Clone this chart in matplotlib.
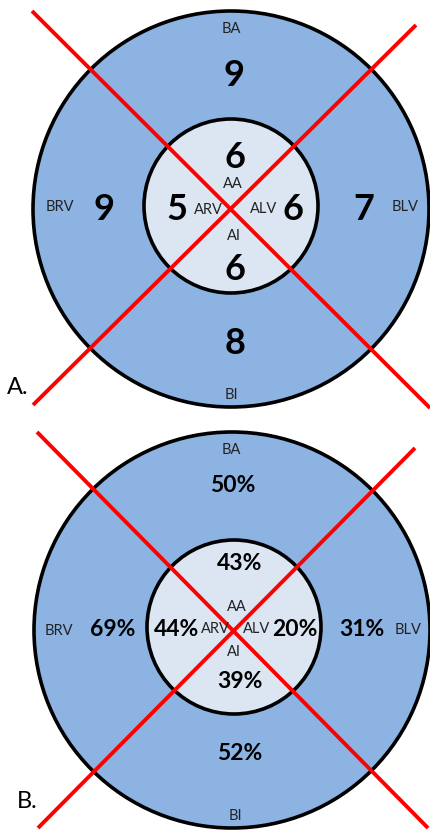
import matplotlib
matplotlib.use('Agg')
import matplotlib.pyplot as plt
from matplotlib.patches import Circle

# segment names and values, order: top, right, bottom, left (outer ring then inner disc)
regions = ['BA', 'BLV', 'BI', 'BRV', 'AA', 'ALV', 'AI', 'ARV']
counts = [9, 7, 8, 9, 6, 6, 6, 5]
percents = ['50%', '31%', '52%', '69%', '43%', '20%', '39%', '44%']
panel_labels = ['A.', 'B.']

OUTER = '#8DB3E2'
INNER = '#DCE6F2'
RED = '#FF0000'
FONT = ['Lato', 'DejaVu Sans']

# layout of each panel in pixel coordinates
panels = [
    dict(center=(231, 209), inner_c=(231, 206), r_out=198, r_in=87,
         cross=[((32, 11), (430, 408)), ((416, 25), (33, 405))],
         name_off=[(0, -180), (174, -2), (0, 186), (-171, -2),
                   (2, -25), (33, 0), (3, 27), (-23, 1)],
         val_off=[(3, -134), (133, 0), (4, 134), (-127, 0),
                  (4, -51), (62, 0), (4, 61), (-54, 0)],
         val_size=26, tag_pos=(18, 388)),
    dict(center=(232, 630), inner_c=(234, 627), r_out=198, r_in=87,
         cross=[((37, 432), (428, 828)), ((415, 448), (38, 828))],
         name_off=[(-1, -180), (176, 0), (3, 186), (-173, 1),
                   (5, -23), (25, -1), (2, 22), (-17, -1)],
         val_off=[(1, -145), (130, 0), (8, 123), (-119, 0),
                  (8, -67), (63, 0), (8, 52), (-55, 0)],
         val_size=16.5, tag_pos=(27, 801)),
]

fig = plt.figure(figsize=(4.30, 8.31), dpi=100)
ax = fig.add_axes([0, 0, 1, 1])
ax.set_xlim(0, 430)
ax.set_ylim(831, 0)
ax.axis('off')

for i, p in enumerate(panels):
    cx, cy = p['center']
    ax.add_patch(Circle(p['center'], p['r_out'], facecolor=OUTER,
                        edgecolor='black', lw=2.6, zorder=1))
    ax.add_patch(Circle(p['inner_c'], p['r_in'], facecolor=INNER,
                        edgecolor='black', lw=2.6, zorder=2))
    for (x0, y0), (x1, y1) in p['cross']:
        ax.plot([x0, x1], [y0, y1], color=RED, lw=2.8, zorder=3,
                solid_capstyle='butt')

    values = counts if i == 0 else percents
    for name, val, (nx, ny), (vx, vy) in zip(regions, values,
                                             p['name_off'], p['val_off']):
        ax.text(cx + nx, cy + ny, name, ha='center', va='center',
                fontsize=10.5, color='#222222', family=FONT, zorder=4)
        ax.text(cx + vx, cy + vy, str(val), ha='center', va='center',
                fontsize=p['val_size'], fontweight='bold', color='black',
                family=FONT, zorder=4)

    ax.text(*p['tag_pos'], panel_labels[i], ha='center', va='center',
            fontsize=17, color='black', family=FONT, zorder=4)

fig.savefig('out.png', dpi=100)
